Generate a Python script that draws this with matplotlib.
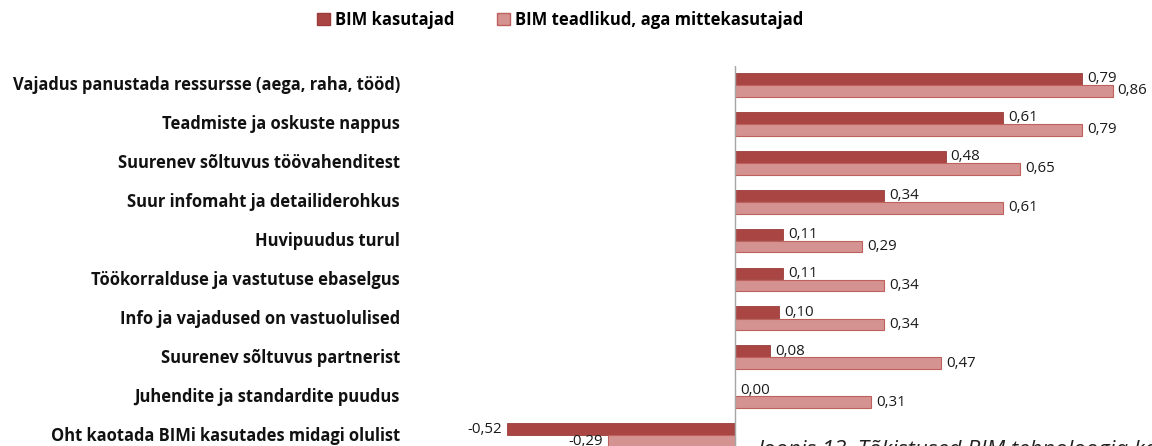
import matplotlib
matplotlib.use("Agg")
import matplotlib.pyplot as plt
import numpy as np
from matplotlib.patches import Patch

categories = [
    "Vajadus panustada ressursse (aega, raha, tööd)",
    "Teadmiste ja oskuste nappus",
    "Suurenev sõltuvus töövahenditest",
    "Suur infomaht ja detailiderohkus",
    "Huvipuudus turul",
    "Töökorralduse ja vastutuse ebaselgus",
    "Info ja vajadused on vastuolulised",
    "Suurenev sõltuvus partnerist",
    "Juhendite ja standardite puudus",
    "Oht kaotada BIMi kasutades midagi olulist",
]
series_names = ["BIM kasutajad", "BIM teadlikud, aga mittekasutajad"]
users = [0.79, 0.61, 0.48, 0.34, 0.11, 0.11, 0.10, 0.08, 0.00, -0.52]
nonusers = [0.86, 0.79, 0.65, 0.61, 0.29, 0.34, 0.34, 0.47, 0.31, -0.29]
caption = "Joonis 13. Tõkistused BIM tehnoloogia kasutuselevõtul"

W, H = 1152, 446
fig = plt.figure(figsize=(W / 100, H / 100), dpi=100)

# axes geometry in pixels
zero_px = 735
scale = 439.0
ax_left_px, ax_right_px = 440, 1152
ax_top_px, ax_bot_px = 65.5, 454.5
ax = fig.add_axes([ax_left_px / W, 1 - ax_bot_px / H,
                   (ax_right_px - ax_left_px) / W, (ax_bot_px - ax_top_px) / H])
ax.set_xlim(-(zero_px - ax_left_px) / scale, (ax_right_px - zero_px) / scale)
n = len(categories)
ax.set_ylim(n - 0.5, -0.5)

dark = "#A94543"
light = "#D49391"
light_edge = "#C0605D"
y = np.arange(n)
bh = 0.30
off = 0.155
ax.barh(y - off, users, height=bh, color=dark, edgecolor="#9A3D3B", linewidth=0.6, zorder=2,
        label=series_names[0])
ax.barh(y + off, nonusers, height=bh, color=light, edgecolor=light_edge, linewidth=0.8, zorder=2,
        label=series_names[1])
ax.axvline(0, color="#A6A6A6", linewidth=1.0, zorder=3)

for spine in ax.spines.values():
    spine.set_visible(False)
ax.set_xticks([])
ax.set_yticks([])

lab_font = dict(family="Open Sans", fontsize=10.8, color="#1a1a1a")
dx = 5 / scale
for i in range(n):
    for v, yy in ((users[i], y[i] - off), (nonusers[i], y[i] + off)):
        s = f"{v:.2f}".replace(".", ",")
        if v >= 0:
            ax.text(v + dx, yy, s, ha="left", va="center", **lab_font, zorder=4)
        else:
            ax.text(v - dx, yy, s, ha="right", va="center", **lab_font, zorder=4)
    # category labels
    fig.text(400 / W, 1 - (85 + 39.0 * i) / H, categories[i], ha="right", va="center",
             family="Open Sans", fontweight="bold", fontsize=11.9, color="#111111")

# legend
handles = [Patch(facecolor=dark, edgecolor="#9A3D3B"), Patch(facecolor=light, edgecolor=light_edge)]
leg = fig.legend(handles, series_names, loc="center", bbox_to_anchor=(560 / W, 1 - 20 / H),
                 ncol=2, frameon=False, handlelength=0.75, handleheight=0.75, handletextpad=0.3,
                 columnspacing=2.6, prop=dict(family="Open Sans", weight="bold", size=12))

fig.text(757 / W, 1 - 456 / H, caption, ha="left", va="baseline", family="Open Sans",
         style="italic", fontsize=16, color="#222222")

fig.savefig("out.png", dpi=100)
